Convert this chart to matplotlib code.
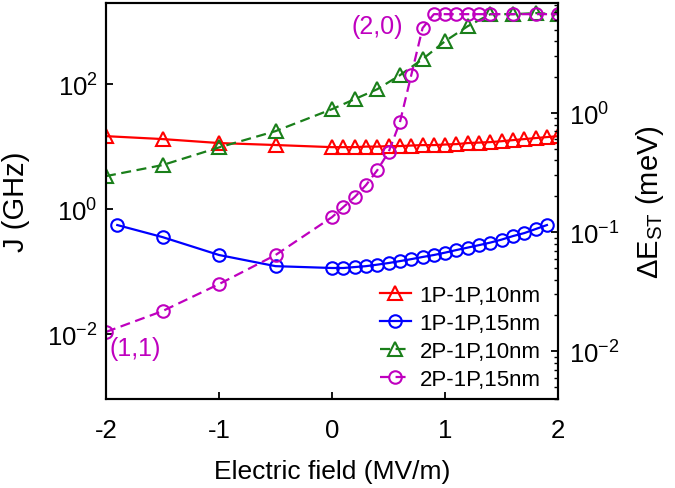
import numpy as np
import matplotlib
matplotlib.use("Agg")
import matplotlib.pyplot as plt
from matplotlib.ticker import LogLocator, FixedLocator, NullLocator, NullFormatter

plt.rcParams['font.family'] = ['Liberation Sans', 'DejaVu Sans']
plt.rcParams['mathtext.fontset'] = 'custom'
plt.rcParams['mathtext.rm'] = 'Liberation Sans'
plt.rcParams['mathtext.it'] = 'Liberation Sans'
plt.rcParams['axes.unicode_minus'] = False

# ---- data (J in GHz) ----
x_red = [-2, -1.5, -1, -0.5, 0, 0.1, 0.2, 0.3, 0.4, 0.5, 0.6, 0.7, 0.8, 0.9, 1.0,
         1.1, 1.2, 1.3, 1.4, 1.5, 1.6, 1.7, 1.8, 1.9, 2.0]
y_red = [14.7, 13.2, 11.4, 10.6, 9.8, 9.8, 9.8, 10.0, 10.0, 10.2, 10.2, 10.4, 10.57, 10.57, 10.8,
         10.96, 11.4, 11.6, 11.8, 12.2, 12.7, 13.2, 13.7, 14.2, 14.7]

x_blue = [-1.9, -1.5, -1, -0.5, 0, 0.1, 0.2, 0.3, 0.4, 0.5, 0.6, 0.7, 0.8, 0.9, 1.0,
          1.1, 1.2, 1.3, 1.4, 1.5, 1.6, 1.7, 1.8, 1.9]
y_blue = [0.555, 0.356, 0.184, 0.122, 0.114, 0.114, 0.118, 0.122, 0.129, 0.137, 0.147, 0.158,
          0.171, 0.184, 0.201, 0.221, 0.242, 0.265, 0.291, 0.325, 0.370, 0.413, 0.479, 0.555]

x_green = [-2, -1.5, -1, -0.5, 0, 0.2, 0.4, 0.6, 0.8, 1.0, 1.2, 1.4, 1.6, 1.8, 2.0]
y_green = [3.37, 5.06, 9.7, 17.7, 39.8, 57.5, 83, 139, 251, 488, 847, 1318, 1318, 1370, 1318]

x_purple = [-2, -1.5, -1, -0.5, 0, 0.1, 0.2, 0.3, 0.4, 0.5, 0.6, 0.7, 0.8, 0.9, 1.0,
            1.1, 1.2, 1.3, 1.4, 1.6, 1.8, 2.0]
y_purple = [0.0108, 0.0233, 0.063, 0.184, 0.745, 1.08, 1.56, 2.42, 4.2, 8.2, 24.7, 139, 787,
            1318, 1318, 1318, 1318, 1318, 1318, 1318, 1318, 1318]

labels = ['1P-1P,10nm', '1P-1P,15nm', '2P-1P,10nm', '2P-1P,15nm']
xticks = [-2, -1, 0, 1, 2]

red = '#FF0000'
blue = '#0000FF'
green = '#1A7F1A'
purple = '#BF00BF'

fig = plt.figure(figsize=(6.75, 4.89), dpi=100)
ax = fig.add_axes([0.157, 0.182, 0.670, 0.810])

ax.plot(x_red, y_red, '-', color=red, lw=1.6, marker='^', ms=10, mfc='none', mew=1.5, label=labels[0])
ax.plot(x_blue, y_blue, '-', color=blue, lw=1.6, marker='o', ms=9, mfc='none', mew=1.5, label=labels[1])
ax.plot(x_green, y_green, '--', color=green, lw=1.6, marker='^', ms=10, mfc='none', mew=1.5, label=labels[2],
        dashes=(4.5, 2.5))
ax.plot(x_purple, y_purple, '--', color=purple, lw=1.6, marker='o', ms=9, mfc='none', mew=1.5, label=labels[3],
        dashes=(4.5, 2.5))

ax.set_yscale('log')
ax.set_xlim(-2, 2)
ax.set_ylim(10**-3.04, 10**3.30)
ax.set_xticks(xticks)
ax.set_xticklabels([str(v) for v in xticks])
ax.yaxis.set_major_locator(FixedLocator([1e-2, 1e0, 1e2]))
ax.yaxis.set_minor_locator(NullLocator())
ax.set_yticklabels([r'$\mathregular{10^{-2}}$', r'$\mathregular{10^{0}}$', r'$\mathregular{10^{2}}$'])
ax.tick_params(axis='both', direction='in', labelsize=18.5, length=5, width=1.3)
ax.tick_params(axis='x', pad=14)
ax.tick_params(axis='y', pad=6)
for s in ax.spines.values():
    s.set_linewidth(1.5)

ax.set_xlabel('Electric field (MV/m)', fontsize=19, labelpad=12)
ax.set_ylabel('J (GHz)', fontsize=21)
ax.yaxis.set_label_coords(-0.167, 0.5)

ax.text(0.40, 10**2.93, '(2,0)', color=purple, fontsize=18, ha='center', va='center')
ax.text(-1.97, 10**-2.22, '(1,1)', color=purple, fontsize=18, ha='left', va='center')

ax2 = ax.twinx()
ax2.set_yscale('log')
ax2.set_ylim(10**-2.40, 10**0.924)
ax2.yaxis.set_major_locator(FixedLocator([1e-2, 1e-1, 1e0]))
ax2.yaxis.set_minor_locator(LogLocator(base=10, subs=np.arange(2, 10)))
ax2.yaxis.set_minor_formatter(NullFormatter())
ax2.set_yticklabels([r'$\mathregular{10^{-2}}$', r'$\mathregular{10^{-1}}$', r'$\mathregular{10^{0}}$'])
ax2.tick_params(axis='y', which='major', direction='in', labelsize=18.5, length=5, width=1.3, pad=8)
ax2.tick_params(axis='y', which='minor', direction='in', length=3, width=1.0)
ax2.set_ylabel(r'ΔE$_{\mathregular{ST}}$ (meV)', fontsize=21)
ax2.yaxis.set_label_coords(1.168, 0.5)
for s in ax2.spines.values():
    s.set_linewidth(1.5)

leg = ax.legend(loc='lower right', bbox_to_anchor=(0.981, 0.0), frameon=False, fontsize=16,
                handlelength=1.4, handletextpad=0.4, labelspacing=0.32, borderaxespad=0.0)

fig.savefig('out.png', dpi=100)
